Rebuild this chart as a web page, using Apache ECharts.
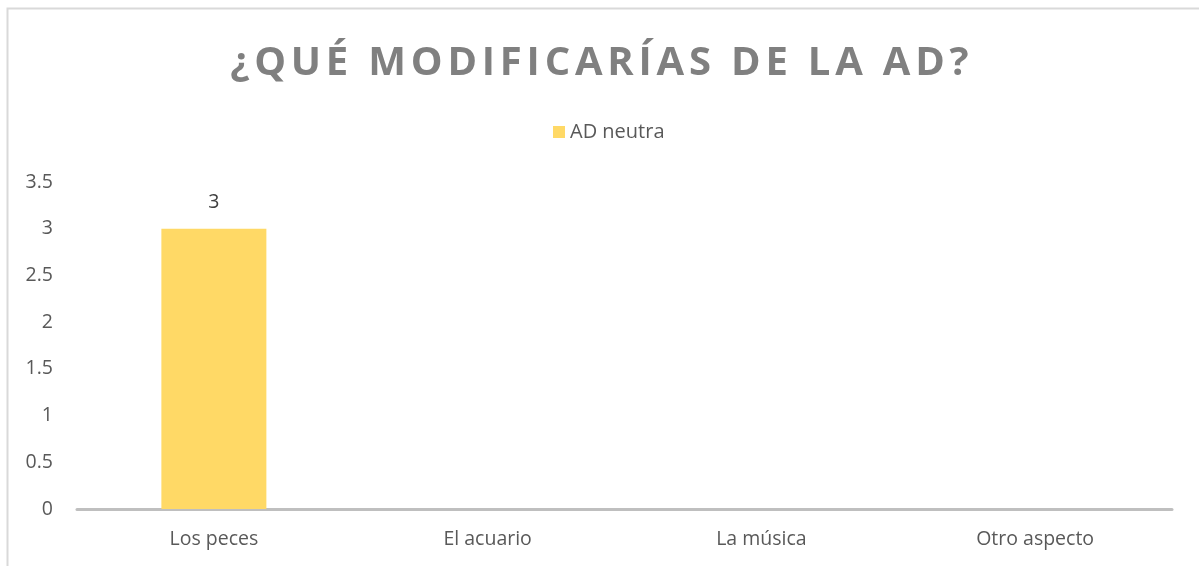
<!DOCTYPE html>
<html>
<head>
<meta charset="utf-8">
<script src="https://cdn.jsdelivr.net/npm/echarts@6/dist/echarts.min.js"></script>
<style>
  html, body { margin: 0; padding: 0; background: #fff; }
  #chart { width: 1199px; height: 566px; }
</style>
</head>
<body>
<div id="chart"></div>
<script>
var titleText = '¿QUÉ MODIFICARÍAS DE LA AD?';
var categories = ['Los peces', 'El acuario', 'La música', 'Otro aspecto'];
var adNeutra = [3, null, null, null];
var yTicks = { min: 0, max: 3.5, interval: 0.5 };

var chart = echarts.init(document.getElementById('chart'));

// spaced-out title: each letter as its own rich token
var spacedTitle = titleText.split('').map(function (ch) {
    return '{s|' + ch + '}';
}).join('');

var option = {
    backgroundColor: '#fff',
    textStyle: { fontFamily: 'Open Sans' },
    title: {
        text: spacedTitle,
        left: 'center',
        top: 39,
        textStyle: {
            fontFamily: 'Open Sans',
            fontSize: 40,
            fontWeight: 'bold',
            color: '#808080',
            rich: {
                s: {
                    fontFamily: 'Open Sans',
                    fontSize: 40,
                    fontWeight: 'bold',
                    color: '#808080',
                    padding: [0, 2.4]
                }
            }
        }
    },
    legend: {
        data: ['AD neutra'],
        top: 117,
        left: 548,
        itemWidth: 12,
        itemHeight: 12,
        itemGap: 6,
        icon: 'rect',
        textStyle: { fontSize: 20, color: '#595959' }
    },
    grid: {
        left: 77,
        right: 27,
        top: 182,
        bottom: 57
    },
    xAxis: {
        type: 'category',
        data: categories,
        axisLine: { lineStyle: { color: '#BFBFBF', width: 3 } },
        axisTick: { show: false },
        axisLabel: { fontSize: 19.5, color: '#595959', margin: 20 }
    },
    yAxis: {
        type: 'value',
        min: yTicks.min,
        max: yTicks.max,
        interval: yTicks.interval,
        splitLine: { show: false },
        axisLine: { show: false },
        axisTick: { show: false },
        axisLabel: { fontSize: 19.5, color: '#595959', margin: 24 }
    },
    series: [{
        name: 'AD neutra',
        type: 'bar',
        data: adNeutra,
        barWidth: 105,
        itemStyle: { color: '#FFD966' },
        label: {
            show: true,
            position: 'top',
            distance: 16,
            fontSize: 19.5,
            color: '#404040'
        }
    }],
    graphic: [{
        type: 'polyline',
        silent: true,
        shape: { points: [[7.5, 566], [7.5, 8.5], [1199, 8.5]] },
        style: { stroke: '#D9D9D9', lineWidth: 2, fill: null }
    }]
};

chart.setOption(option);
</script>
</body>
</html>
